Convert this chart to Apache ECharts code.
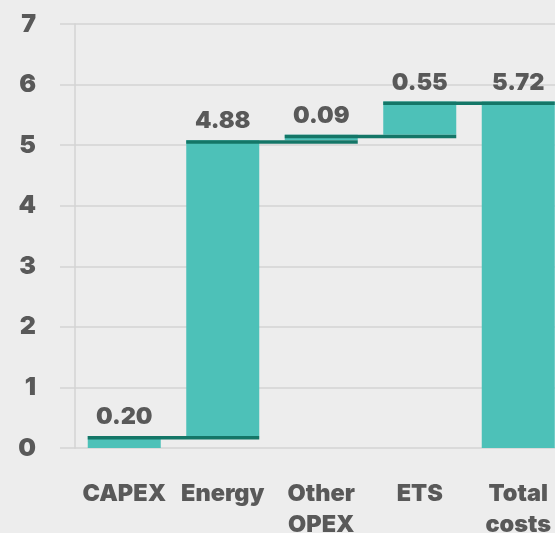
<!DOCTYPE html>
<html><head><meta charset="utf-8">
<script src="https://cdn.jsdelivr.net/npm/echarts@6/dist/echarts.min.js"></script>
<style>html,body{margin:0;padding:0;background:#ededed}#c{width:555px;height:533px}</style>
</head><body><div id="c"></div>
<script>
const categories = ['CAPEX', 'Energy', 'Other\nOPEX', 'ETS', 'Total\ncosts'];
const values = [0.20, 4.88, 0.09, 0.55, 5.72];
const isTotal = [false, false, false, false, true];
const yMin = 0, yMax = 7, yStep = 1;

const bases = [];
const tops = [];
let cum = 0;
values.forEach((v, i) => {
  if (isTotal[i]) { bases.push(0); tops.push(v); }
  else { bases.push(cum); cum += v; tops.push(cum); }
});
const connectors = [];
for (let i = 0; i < values.length - 1; i++) connectors.push([i, tops[i]]);

const FONT = 'Inter';
const TXT = '#595959';
const TEAL = '#4dc1b8';
const DARK = '#147667';
const BARW = 73;

const chart = echarts.init(document.getElementById('c'), null, {renderer: 'canvas'});
chart.setOption({
  backgroundColor: '#ededed',
  animation: false,
  grid: [
    {left: 60, right: 0, top: 24, bottom: 85, containLabel: false, outerBoundsMode: 'none'},
    {left: 75, right: -12.5, top: 24, bottom: 85, containLabel: false, outerBoundsMode: 'none'}
  ],
  xAxis: [
    {gridIndex: 0, type: 'category', data: categories, show: false},
    {gridIndex: 1, type: 'category', data: categories,
      axisLine: {show: false}, axisTick: {show: false},
      axisLabel: {color: TXT, fontFamily: FONT, fontWeight: 900, fontSize: 23.5, lineHeight: 31, margin: 30, interval: 0}}
  ],
  yAxis: [
    {gridIndex: 0, type: 'value', min: yMin, max: yMax, interval: yStep,
      axisLine: {show: false}, axisTick: {show: false},
      axisLabel: {color: TXT, fontFamily: FONT, fontWeight: 900, fontSize: 25, margin: 24},
      splitLine: {lineStyle: {color: '#d3d3d3', width: 1.5}}},
    {gridIndex: 1, type: 'value', min: yMin, max: yMax, interval: yStep,
      axisLine: {show: true, lineStyle: {color: '#d3d3d3', width: 1.5}}, axisTick: {show: false},
      axisLabel: {show: false}, splitLine: {show: false}}
  ],
  series: [
    {type: 'bar', xAxisIndex: 1, yAxisIndex: 1, stack: 'w', barWidth: BARW,
      itemStyle: {color: 'transparent'}, silent: true, data: bases},
    {type: 'bar', xAxisIndex: 1, yAxisIndex: 1, stack: 'w', barWidth: BARW,
      itemStyle: {color: TEAL}, data: values,
      label: {show: true, position: 'top', distance: 7, color: TXT, fontFamily: FONT, fontWeight: 900, fontSize: 23.5,
        formatter: p => p.value.toFixed(2)}},
    {type: 'custom', xAxisIndex: 1, yAxisIndex: 1, z: 10, data: connectors,
      renderItem: function (params, api) {
        const i = api.value(0), v = api.value(1);
        const p0 = api.coord([i, v]);
        const p1 = api.coord([i + 1, v]);
        const y = p0[1] + 1.75;
        return {type: 'line', shape: {x1: p0[0] - BARW / 2, y1: y, x2: p1[0] + BARW / 2, y2: y},
          style: {stroke: DARK, lineWidth: 3.5}};
      }}
  ]
});
</script></body></html>
